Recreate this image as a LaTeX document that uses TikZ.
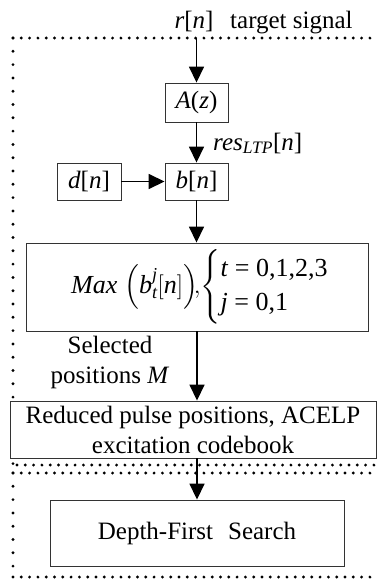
\documentclass[tikz,border=0pt]{standalone}
\usepackage{amsmath}
\usepackage{fontspec}
\setmainfont{Liberation Serif}
\usetikzlibrary{arrows.meta}
\tikzset{
  blk/.style={draw=black!80, line width=0.9pt, inner sep=0pt, font=\fontsize{25}{30}\selectfont},
  lbl/.style={inner sep=0pt, font=\fontsize{25}{30}\selectfont},
  arr/.style={line width=1.6pt, -{Triangle[width=15pt,length=16pt]}},
  hdots/.style={line width=3.2pt, line cap=round, dash pattern=on 0pt off 8.3pt},
  vdots/.style={line width=3.2pt, line cap=round, dash pattern=on 0pt off 13.3pt},
}
\begin{document}
\begin{tikzpicture}[x=1pt,y=-1pt]
\useasboundingbox (0,0) rectangle (377,587);
% dotted frames
\draw[hdots] (13,38) -- (377,38);
\draw[vdots] (13,38) -- (13,465);
\draw[hdots] (17,465) -- (377,465);
\draw[hdots] (13,473) -- (377,473);
\draw[vdots] (13,473) -- (13,577);
\draw[hdots] (13,577) -- (377,577);
% blocks
\node[blk, minimum width=63pt, minimum height=39pt] (A) at (196.5,102.5) {\textit{A}(\textit{z})};
\node[blk, minimum width=63pt, minimum height=37pt] (B) at (196.5,181.5) {\textit{b}[\textit{n}]};
\node[blk, minimum width=64pt, minimum height=37pt] (D) at (89,181.5) {\textit{d}[\textit{n}]};
\node[blk, minimum width=342pt, minimum height=88pt, fill=white, font=\fontsize{26}{31}\selectfont] (M) at (197,287)
  {\hspace*{6pt}$\textit{Max}\;\Bigl(\textit{b}_{\textit{t}}^{\textit{j}}[\textit{n}]\Bigr)\!,\!\left\{\begin{tabular}{@{}l@{}}\textit{t} = 0,1,2,3\\[3pt]\textit{j} = 0,1\end{tabular}\right.$};
\node[blk, minimum width=366pt, minimum height=57pt, fill=white, align=center] (R) at (193,429.5)
  {Reduced pulse positions, ACELP\\excitation codebook};
\node[blk, minimum width=294pt, minimum height=66pt, fill=white] (S) at (197,533)
  {Depth-First\hspace{0.6em}Search};
% labels
\coordinate (in) at (196.5,38);
\node[lbl, anchor=base] (rn) at (194,28.5) {\textit{r}[\textit{n}]};
\node[lbl, anchor=base west] (ts) at (230,28.5) {target signal};
\node[lbl, anchor=base west] (res) at (213,150) {\textit{res}$_{\textit{LTP}}$[\textit{n}]};
\node[lbl, align=center] (sel) at (110,362) {Selected\\positions \textit{M}};
% connectors
\draw[arr] (in) -- (A.north);
\draw[arr] (A.south) -- (B.north);
\draw[arr] (D.east) -- (B.west);
\draw[arr] (B.south) -- (B.south |- M.north);
\draw[arr] (M.south) -- (M.south |- R.north);
\draw[arr] (R.south -| S.north) -- (S.north);
\end{tikzpicture}
\end{document}
